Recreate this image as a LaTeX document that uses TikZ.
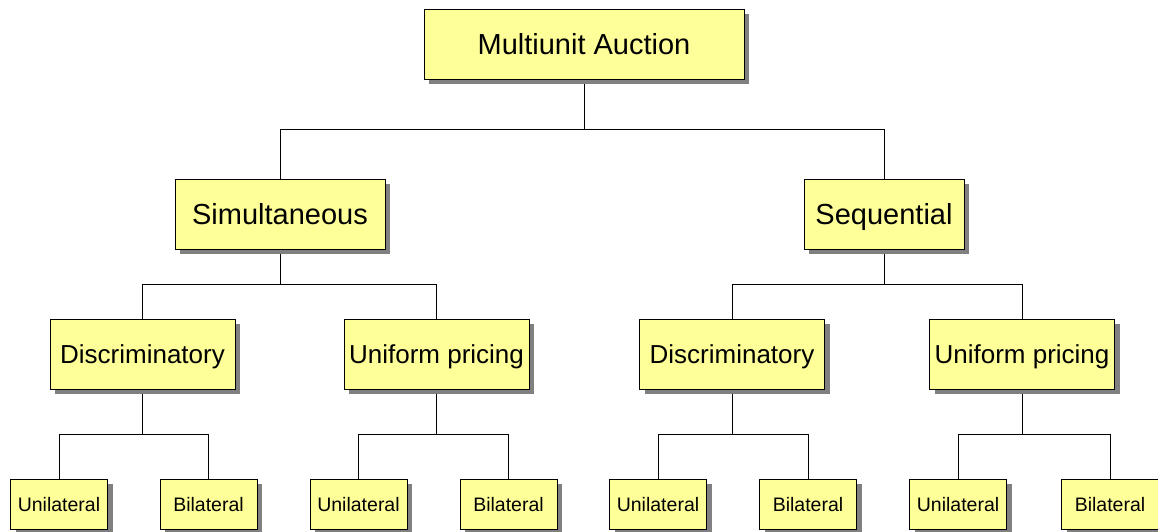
\documentclass[tikz,border=0pt]{standalone}
\usepackage{fontspec}
\setmainfont{Liberation Sans}
\usetikzlibrary{shadows,backgrounds}
\definecolor{boxyellow}{RGB}{255,255,153}
\definecolor{shadowgray}{RGB}{128,128,128}
\begin{document}
\begin{tikzpicture}[x=1pt,y=-1pt,
  box/.style={draw, line width=0.8pt, fill=boxyellow, inner sep=0pt, text depth=0pt,
    drop shadow={shadow xshift=5pt, shadow yshift=-5pt, fill=shadowgray, opacity=1}},
  big/.style={box, font=\fontsize{29}{32}\selectfont, text height=20.8pt, minimum height=70pt},
  mid/.style={box, font=\fontsize{26}{30}\selectfont, text height=18.6pt, minimum height=70pt, minimum width=185pt},
  leaf/.style={box, font=\fontsize{19.5}{22}\selectfont, text height=14pt, minimum height=50pt, minimum width=97pt},
  link/.style={line width=0.8pt}]
\useasboundingbox (0,0) rectangle (1158,532);
\node[big, minimum width=320pt] (aid0) at (584,44){Multiunit Auction};
\node[big, minimum width=210pt] (aid1) at (280,214){Simultaneous};
\node[big, minimum width=160pt] (aid2) at (884,214){Sequential};
\node[mid] (aid3) at (142.5,354){Discriminatory};
\node[mid] (aid4) at (436.5,354){Uniform pricing};
\node[mid] (aid5) at (732,354){Discriminatory};
\node[mid] (aid6) at (1022,354){Uniform pricing};
\node[leaf] (aid7) at (59,504){Unilateral};
\node[leaf] (aid8) at (208.5,504){Bilateral};
\node[leaf] (aid9) at (358.5,504){Unilateral};
\node[leaf] (aid10) at (508.5,504){Bilateral};
\node[leaf] (aid11) at (658,504){Unilateral};
\node[leaf] (aid12) at (808,504){Bilateral};
\node[leaf] (aid13) at (958,504){Unilateral};
\node[leaf] (aid14) at (1110,504){Bilateral};
\begin{scope}[on background layer]
\draw[link](aid0.south) -- ++(0,50) coordinate (bar0);
\draw[link](aid1.north) |- (bar0) -| (aid2.north);
\draw[link](aid1.south) -- ++(0,35) coordinate (bar1);
\draw[link](aid3.north) |- (bar1) -| (aid4.north);
\draw[link](aid2.south) -- ++(0,35) coordinate (bar2);
\draw[link](aid5.north) |- (bar2) -| (aid6.north);
\draw[link](aid3.south) -- ++(0,45) coordinate (bar3);
\draw[link](aid7.north) |- (bar3) -| (aid8.north);
\draw[link](aid4.south) -- ++(0,45) coordinate (bar4);
\draw[link](aid9.north) |- (bar4) -| (aid10.north);
\draw[link](aid5.south) -- ++(0,45) coordinate (bar5);
\draw[link](aid11.north) |- (bar5) -| (aid12.north);
\draw[link](aid6.south) -- ++(0,45) coordinate (bar6);
\draw[link](aid13.north) |- (bar6) -| (aid14.north);
\end{scope}
\end{tikzpicture}
\end{document}
